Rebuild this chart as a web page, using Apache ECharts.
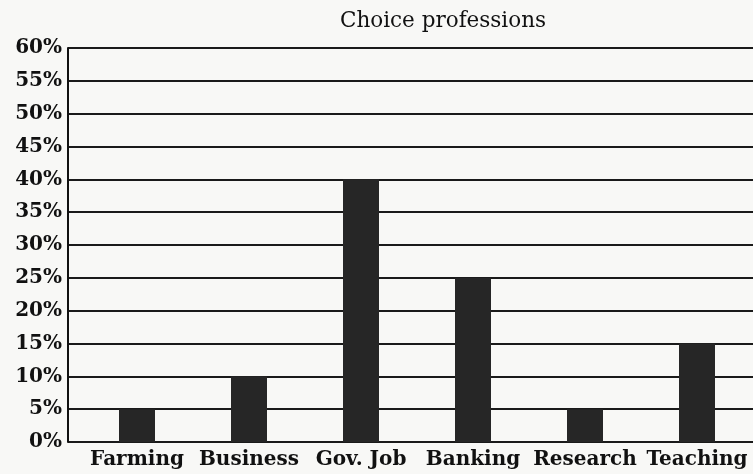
<!DOCTYPE html>
<html><head><meta charset="utf-8">
<script src="https://cdn.jsdelivr.net/npm/echarts@6/dist/echarts.min.js"></script>
<style>html,body{margin:0;padding:0;background:#f8f8f6;}#c{width:753px;height:474px;}</style>
</head><body><div id="c"></div>
<script>
const categories = ['Farming', 'Business', 'Gov. Job', 'Banking', 'Research', 'Teaching'];
const values = [5, 10, 40, 25, 5, 15];
const yTicks = [0, 5, 10, 15, 20, 25, 30, 35, 40, 45, 50, 55, 60];
const font = 'DejaVu Serif';
const chart = echarts.init(document.getElementById('c'));
chart.setOption({
  backgroundColor: '#f8f8f6',
  animation: false,
  title: {
    text: 'Choice professions', left: 438, top: 5, textAlign: 'center',
    textStyle: {fontFamily: font, fontSize: 21.5, fontWeight: 'normal', color: '#111'}
  },
  grid: [
    {left: 68, right: -2, top: 48, bottom: 32},
    {left: 81, right: -1, top: 48, bottom: 32}
  ],
  xAxis: [
    {gridIndex: 0, type: 'value', min: 0, max: 1, show: false},
    {gridIndex: 1, type: 'category', data: categories,
     axisLine: {show: false}, axisTick: {show: false},
     axisLabel: {fontFamily: font, fontSize: 20, fontWeight: 'bold', color: '#111', margin: 8, interval: 0}}
  ],
  yAxis: [
    {gridIndex: 0, type: 'value', min: yTicks[0], max: yTicks[yTicks.length - 1], interval: 5,
     axisLine: {show: true, lineStyle: {color: '#111', width: 2}},
     axisTick: {show: false},
     axisLabel: {fontFamily: font, fontSize: 20, fontWeight: 'bold', color: '#111', margin: 6, formatter: '{value}%'},
     splitLine: {show: true, lineStyle: {color: '#1a1a1a', width: 2}}},
    {gridIndex: 1, type: 'value', min: yTicks[0], max: yTicks[yTicks.length - 1], interval: 5, show: false}
  ],
  series: [{
    type: 'bar', xAxisIndex: 1, yAxisIndex: 1, data: values, barWidth: 36,
    itemStyle: {color: '#262626'}
  }]
});
</script></body></html>
